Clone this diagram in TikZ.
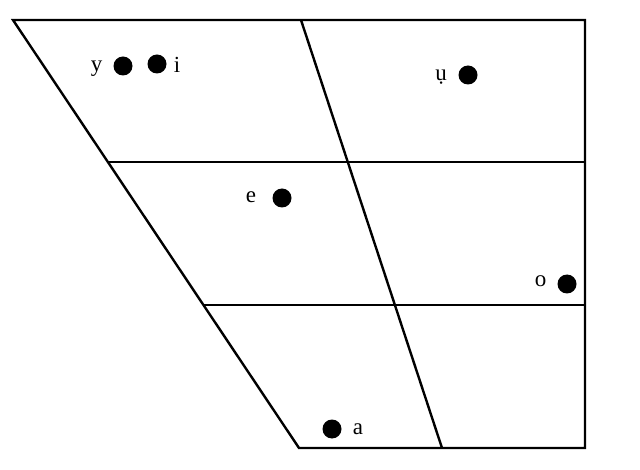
\documentclass[tikz,border=0pt]{standalone}
\usepackage{fontspec}
\setmainfont{Liberation Serif}
\begin{document}
\begin{tikzpicture}[x=1pt,y=-1pt,
  frame/.style={line width=2.4pt,line join=miter},
  vdot/.style={circle,fill=black,inner sep=0pt,minimum size=19pt},
  vlab/.style={inner sep=0pt,anchor=base,font=\fontsize{23}{23}\selectfont}]
\useasboundingbox (0,0) rectangle (640,470);
\coordinate (tl) at (13,20);
\coordinate (tr) at (585,20);
\coordinate (br) at (585,448);
\coordinate (bl) at (299,448);
\coordinate (mt) at (301,20);
\coordinate (mb) at (442,448);
\coordinate (h1l) at (108.5,162);
\coordinate (h1r) at (585,162);
\coordinate (h2l) at (204,305);
\coordinate (h2r) at (585,305);
\draw[frame] (tl) -- (tr) -- (br) -- (bl) -- cycle;
\draw[frame] (mt) -- (mb);
\draw[frame] (h1l) -- (h1r);
\draw[frame] (h2l) -- (h2r);
\node[vdot] (dy) at (123,66) {};
\node[vdot] (di) at (157,64) {};
\node[vdot] (du) at (468,75) {};
\node[vdot] (de) at (282,198) {};
\node[vdot] (do) at (567,284) {};
\node[vdot] (da) at (332,429) {};
\node[vlab] (ly) at (96.5,72) {y};
\node[vlab] (li) at (177,73) {i};
\node[vlab] (lu) at (441,81) {\d{u}};
\node[vlab] (le) at (251,203) {e};
\node[vlab] (lo) at (540.5,287) {o};
\node[vlab] (la) at (358,434) {a};
\end{tikzpicture}
\end{document}
